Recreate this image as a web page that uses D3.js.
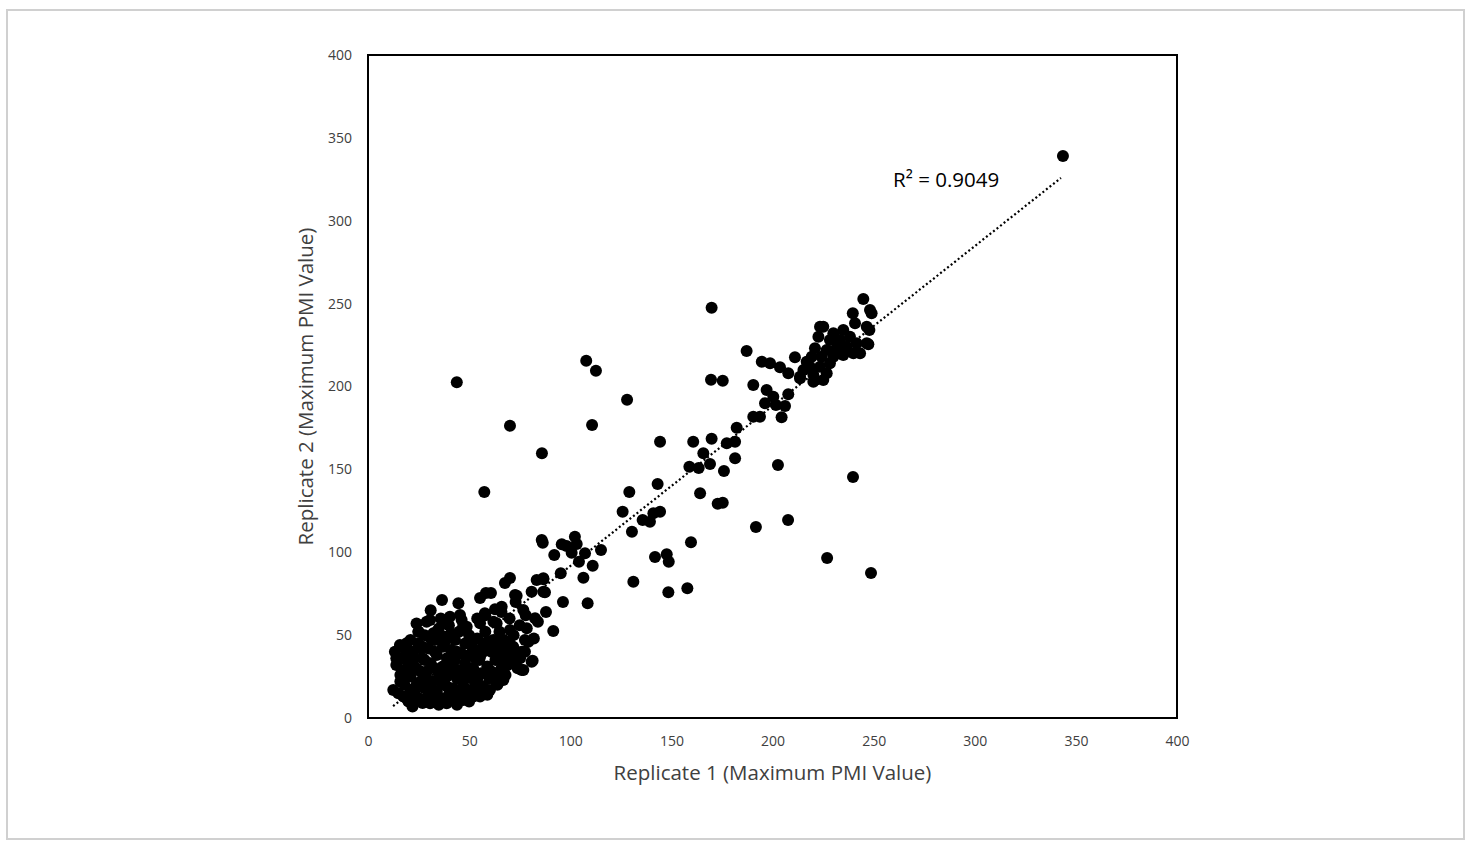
<!DOCTYPE html>
<meta charset="utf-8">
<head>
<style>
  body { margin: 0; background: #fff; }
  svg text { font-family: "Open Sans", "Noto Sans", sans-serif; fill: #404040; }
</style>
</head>
<body>
<script src="https://cdn.jsdelivr.net/npm/d3@7/dist/d3.min.js"></script>
<script>
// replicate 1 vs replicate 2 (max PMI)
var repX = [343.6, 43.9, 107.9, 112.7, 128.1, 70.2, 110.8, 86.0, 57.5, 169.9, 187.2, 169.6, 175.4, 144.4, 129.2, 143.2, 160.8, 169.9, 165.8, 158.9,
  163.5, 169.1, 176.0, 164.2, 172.9, 175.4, 181.5, 182.3, 177.4, 181.5, 125.9, 135.8, 139.4, 144.4, 141.1, 130.5, 102.3, 85.9, 159.7, 141.9,
  147.7, 148.7, 131.2, 148.5, 157.9, 91.6, 108.6, 96.4, 191.8, 207.7, 202.7, 239.8, 227.0, 248.7,
  86.4, 95.8, 98.2, 103.2, 100.7, 92.1, 107.3, 115.2, 104.3, 111.1, 95.3, 106.5, 86.7, 87.5,
  244.9, 248.2, 249.0, 239.7, 240.8, 247.9, 247.4, 194.7, 198.8, 203.7, 207.8, 211.1, 213.6, 218.5, 221.0, 190.5, 197.1, 200.4, 207.8, 196.3,
  201.7, 206.2, 190.5, 193.8, 204.5, 246.6, 235.0, 230.1, 225.1, 222.7, 228.4, 233.4, 238.3, 241.6, 246.6, 236.7, 231.7, 226.8, 221.0, 219.4,
  224.3, 230.1, 235.0, 240.0, 243.3, 228.4, 223.5, 216.9, 215.3, 220.2, 226.8, 220.2, 225.1, 213.6, 223.5,
  36.6, 44.7, 55.4, 58.3, 60.8, 72.7, 67.7, 76.8, 82.6, 30.7, 45.5, 24.9, 32.3, 15.8, 19.1, 13.3, 16.7, 12.5, 15.0, 76.8,
  80.9, 75.2, 69.4, 71.8, 66.9, 79.3, 78.5, 70.2, 63.6, 55.4, 48.8, 38.9, 62.0, 66.9, 60.3, 55.4, 47.1, 38.9, 30.7, 22.4,
  17.5, 55.4, 58.7, 70.2, 83.4, 86.7, 73.5, 80.9, 86.7, 57.8, 62.8, 66.1, 40.5, 46.3, 77.6, 77.6, 73.2, 81.4, 76.0, 66.1, 63.6, 52.1,
  18, 20, 21, 22, 23, 24, 25, 25, 26, 27, 28, 28, 29, 30, 30, 31, 32, 32, 33, 34,
  34, 35, 35, 36, 37, 37, 38, 38, 39, 39, 40, 40, 41, 41, 42, 42, 43, 43, 44, 45,
  45, 46, 46, 47, 48, 48, 49, 49, 50, 50, 51, 52, 52, 53, 54, 54, 55, 56, 57, 57,
  58, 59, 60, 61, 62, 63, 64, 65, 66, 67, 68, 70, 71, 72, 74, 76, 20, 19, 17, 16,
  21, 27, 33, 44, 36, 29, 31, 54, 58, 62, 66, 70, 73, 75, 78, 82, 84, 88, 14, 26,
  14, 16, 18, 19, 21, 23, 24, 26, 27, 29, 31, 33, 34, 36, 38, 40, 42, 44, 47, 49,
  51, 53, 55, 57, 59, 61, 63, 65, 67, 69, 22, 25, 28, 31, 35, 39, 43, 47, 51, 55,
  59, 63, 20, 24, 32, 41, 50, 58, 66, 72];
var repY = [339.0, 202.5, 215.6, 209.5, 192.0, 176.3, 176.8, 159.7, 136.3, 247.5, 221.4, 204.1, 203.5, 166.7, 136.3, 141.2, 166.7, 168.5, 159.7, 151.6,
  150.8, 153.2, 149.0, 135.6, 129.3, 129.9, 166.7, 175.1, 165.7, 156.7, 124.5, 119.5, 118.4, 124.5, 123.5, 112.4, 109.4, 107.4, 106.0, 97.1,
  98.8, 94.3, 82.2, 75.8, 78.3, 52.5, 69.2, 70.0, 115.2, 119.5, 152.6, 145.4, 96.5, 87.5,
  105.8, 104.8, 103.8, 105.0, 99.7, 98.3, 99.4, 101.4, 94.3, 91.9, 87.3, 84.6, 83.7, 75.8,
  252.8, 246.2, 244.2, 244.2, 238.1, 234.1, 225.5, 215.0, 214.0, 211.6, 208.0, 217.6, 205.9, 211.9, 203.9, 200.9, 197.9, 193.8, 195.3, 189.9,
  188.8, 188.2, 181.8, 181.8, 181.4, 236.1, 234.1, 232.1, 236.1, 230.0, 228.1, 228.1, 230.0, 226.1, 226.1, 224.0, 223.1, 222.0, 223.1, 218.0,
  218.0, 218.0, 219.0, 220.0, 220.0, 214.0, 211.9, 215.0, 210.0, 207.0, 208.0, 202.9, 203.9, 204.9, 236.1,
  71.2, 69.2, 72.4, 75.4, 75.4, 74.2, 81.4, 65.2, 60.2, 59.1, 62.1, 52.1, 51.1, 44.0, 45.1, 40.0, 29.0, 16.9, 14.9, 29.0,
  34.0, 36.0, 39.0, 43.0, 47.1, 46.0, 54.1, 53.1, 57.1, 57.1, 55.1, 57.1, 27.0, 22.9, 16.9, 12.9, 10.9, 8.9, 8.9, 9.8,
  12.9, 37.0, 43.0, 84.5, 83.3, 84.3, 73.8, 76.2, 76.2, 63.2, 65.6, 67.1, 61.1, 59.1, 47.1, 40.0, 38.0, 34.6, 29.0, 27.0, 20.9, 12.9,
  20, 33, 25, 40, 15, 30, 12, 45, 22, 36, 18, 50, 28, 14, 42, 33, 22, 10, 47, 38,
  16, 27, 54, 12, 31, 43, 20, 49, 25, 36, 14, 56, 41, 30, 18, 11, 47, 35, 24, 52,
  15, 39, 29, 20, 45, 33, 12, 25, 50, 38, 17, 30, 42, 22, 48, 14, 35, 27, 44, 19,
  52, 31, 24, 40, 47, 35, 20, 52, 30, 41, 26, 45, 35, 50, 30, 40, 38, 28, 36, 22,
  17, 9, 30, 8, 60, 58, 65, 60, 62, 58, 64, 60, 70, 56, 62, 48, 58, 64, 36, 42,
  32, 26, 42, 12, 47, 36, 20, 28, 43, 24, 18, 40, 52, 22, 46, 33, 27, 40, 55, 30,
  44, 36, 26, 40, 46, 28, 43, 38, 47, 32, 7, 52, 35, 48, 8, 19, 29, 15, 24, 20,
  14, 26, 10, 57, 14, 51, 10, 17, 36, 41];

var xTicks = [0, 50, 100, 150, 200, 250, 300, 350, 400];
var yTicks = [0, 50, 100, 150, 200, 250, 300, 350, 400];
var xTitle = "Replicate 1 (Maximum PMI Value)";
var yTitle = "Replicate 2 (Maximum PMI Value)";

// linear trendline as Excel shows it
var trendSlope = 0.965, trendIntercept = -4.8, trendFrom = 12.4, trendTo = 342.6;
var r2Text = "R² = 0.9049";
var r2At = [259.6, 324.6];

var W = 1472, H = 842;
var margin = { top: 55, right: 295, bottom: 124, left: 368 };
var width = W - margin.left - margin.right,
    height = H - margin.top - margin.bottom;

var root = d3.select("body").append("svg")
    .attr("width", W)
    .attr("height", H);

root.append("rect")
    .attr("x", 7).attr("y", 10)
    .attr("width", 1457).attr("height", 829)
    .attr("fill", "none")
    .attr("stroke", "#d0d0d0")
    .attr("stroke-width", 2);

var svg = root.append("g")
    .attr("transform", "translate(" + margin.left + "," + margin.top + ")");

var x = d3.scaleLinear().domain([0, 400]).range([0, width]);
var y = d3.scaleLinear().domain([0, 400]).range([height, 0]);

var xAxis = d3.axisBottom(x).tickValues(xTicks).tickSize(0).tickPadding(18);
var yAxis = d3.axisLeft(y).tickValues(yTicks).tickSize(0).tickPadding(16);

svg.append("g")
    .attr("transform", "translate(0," + height + ")")
    .call(xAxis)
    .call(g => g.select(".domain").remove())
    .selectAll("text")
    .style("font-size", "14px");

svg.append("g")
    .call(yAxis)
    .call(g => g.select(".domain").remove())
    .selectAll("text")
    .style("font-size", "14px");

var pts = repX.map((v, i) => ({ x: v, y: repY[i] }));

svg.selectAll(".dot")
    .data(pts)
    .enter().append("circle")
    .attr("class", "dot")
    .attr("r", 6)
    .attr("cx", d => x(d.x))
    .attr("cy", d => y(d.y))
    .style("fill", "black");

var trend = [trendFrom, trendTo].map(v => ({ x: v, y: trendSlope * v + trendIntercept }));
svg.append("path")
    .datum(trend)
    .attr("d", d3.line().x(d => x(d.x)).y(d => y(d.y)))
    .attr("fill", "none")
    .attr("stroke", "black")
    .attr("stroke-width", 2.2)
    .attr("stroke-dasharray", "2,2.5");

// plot frame
svg.append("rect")
    .attr("width", width).attr("height", height)
    .attr("fill", "none")
    .attr("stroke", "black")
    .attr("stroke-width", 2);

svg.append("text")
    .attr("x", x(r2At[0])).attr("y", y(r2At[1]))
    .attr("dy", "0.35em")
    .style("font-size", "20.5px")
    .style("fill", "#000")
    .text(r2Text);

svg.append("text")
    .attr("x", width / 2).attr("y", height + 62)
    .attr("text-anchor", "middle")
    .style("font-size", "20.5px")
    .text(xTitle);

svg.append("text")
    .attr("transform", "translate(-55," + height / 2 + ") rotate(-90)")
    .attr("text-anchor", "middle")
    .style("font-size", "20.5px")
    .text(yTitle);
</script>
</body>
